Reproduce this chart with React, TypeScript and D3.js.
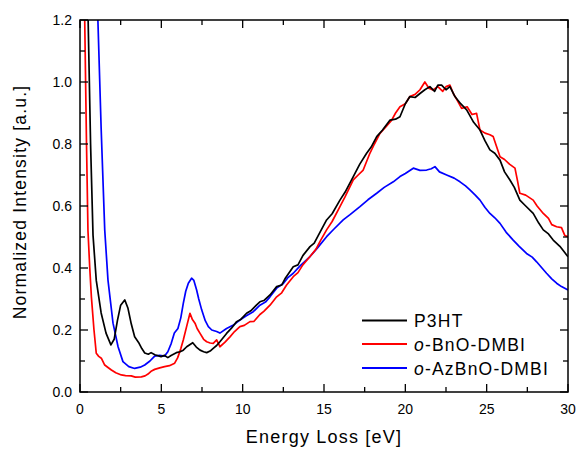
import React from "react";
import * as d3 from "d3";

const p3htE = [0.35,0.5,0.65,0.8,1.0,1.3,1.6,1.9,2.1,2.3,2.5,2.75,2.95,3.15,3.36,3.6,3.8,3.98,4.2,4.37,4.6,4.98,5.2,5.4,5.6,5.92,6.15,6.35,6.56,6.93,7.15,7.38,7.6,7.79,8.0,8.19,8.4,8.6,8.8,9.01,9.3,9.63,9.9,10.24,10.5,10.86,11.06,11.3,11.68,12.09,12.4,12.6,13.11,13.4,13.7,14.14,14.4,14.7,15.16,15.5,15.98,16.3,16.8,17.2,17.62,17.9,18.24,18.6,19.05,19.4,19.67,20.0,20.28,20.6,20.9,21.2,21.51,21.8,22.0,22.23,22.5,22.74,23.05,23.4,23.77,24.2,24.59,24.9,25.2,25.5,25.82,26.1,26.43,26.7,27.04,27.4,27.86,28.2,28.48,28.8,29.09,29.5,29.8,30.0];
const p3htI = [1.3,1.2,0.8,0.506,0.36,0.255,0.19,0.152,0.17,0.23,0.28,0.297,0.27,0.22,0.178,0.16,0.14,0.126,0.122,0.127,0.12,0.114,0.118,0.111,0.118,0.127,0.13,0.135,0.146,0.159,0.145,0.135,0.13,0.127,0.132,0.141,0.15,0.162,0.175,0.189,0.205,0.227,0.235,0.254,0.262,0.281,0.291,0.295,0.313,0.34,0.345,0.365,0.404,0.41,0.44,0.469,0.48,0.51,0.555,0.575,0.619,0.645,0.695,0.735,0.77,0.79,0.824,0.845,0.877,0.88,0.888,0.93,0.953,0.95,0.963,0.975,0.985,0.97,0.99,0.99,0.975,0.985,0.953,0.93,0.91,0.87,0.845,0.81,0.781,0.77,0.748,0.71,0.684,0.66,0.619,0.6,0.576,0.545,0.523,0.51,0.49,0.47,0.45,0.436];

const bnoE = [0.15,0.29,0.4,0.49,0.6,0.7,0.86,1.0,1.15,1.31,1.52,1.7,1.93,2.2,2.54,2.8,3.15,3.4,3.77,4.0,4.18,4.4,4.59,4.9,5.2,5.5,5.82,6.0,6.2,6.35,6.55,6.76,6.9,7.07,7.2,7.38,7.6,7.79,8.0,8.19,8.4,8.6,8.9,9.22,9.5,9.83,10.1,10.45,10.7,11.06,11.3,11.68,12.09,12.4,12.7,13.11,13.4,13.7,14.14,14.5,14.8,15.16,15.5,15.98,16.3,16.8,17.1,17.41,17.82,18.1,18.44,18.8,19.16,19.4,19.67,20.0,20.28,20.6,20.9,21.2,21.45,21.7,22.0,22.3,22.5,22.74,22.95,23.2,23.46,23.8,24.1,24.38,24.59,24.9,25.2,25.4,25.82,26.1,26.4,26.74,26.9,27.04,27.4,27.86,28.1,28.48,28.8,29.0,29.3,29.6,29.8,30.0];
const bnoI = [1.35,1.2,0.8,0.52,0.4,0.307,0.2,0.125,0.115,0.109,0.087,0.08,0.071,0.062,0.055,0.053,0.052,0.048,0.049,0.052,0.058,0.068,0.073,0.078,0.082,0.085,0.093,0.11,0.14,0.168,0.21,0.254,0.235,0.222,0.205,0.189,0.17,0.162,0.158,0.157,0.168,0.146,0.16,0.178,0.195,0.211,0.215,0.227,0.228,0.25,0.26,0.28,0.307,0.32,0.345,0.372,0.385,0.41,0.437,0.46,0.49,0.523,0.55,0.598,0.63,0.684,0.7,0.716,0.77,0.8,0.834,0.855,0.877,0.9,0.92,0.93,0.953,0.96,0.975,1.0,0.98,0.974,0.985,0.97,0.985,0.99,0.963,0.94,0.915,0.92,0.895,0.899,0.845,0.835,0.83,0.824,0.759,0.75,0.735,0.722,0.68,0.641,0.635,0.619,0.6,0.576,0.56,0.54,0.533,0.53,0.505,0.501];

const azE = [0.9,1.1,1.3,1.52,1.72,2.03,2.34,2.64,3.0,3.36,3.7,3.98,4.3,4.59,4.9,5.2,5.4,5.61,5.8,6.02,6.2,6.35,6.5,6.66,6.86,7.0,7.17,7.3,7.48,7.7,7.89,8.1,8.4,8.6,9.01,9.4,9.83,10.2,10.65,11.06,11.4,11.68,12.09,12.5,12.8,13.11,13.5,14.14,14.6,15.16,15.6,16.18,16.6,17.21,17.7,18.24,18.7,19.26,19.67,20.0,20.49,20.9,21.31,21.6,21.82,22.1,22.54,23.0,23.36,23.7,23.97,24.3,24.59,24.9,25.2,25.5,25.82,26.2,26.63,27.0,27.45,27.8,28.07,28.4,28.68,29.0,29.3,29.6,30.0];
const azI = [1.5,1.2,0.85,0.523,0.361,0.222,0.146,0.098,0.082,0.076,0.08,0.087,0.1,0.116,0.118,0.116,0.13,0.157,0.19,0.205,0.24,0.286,0.325,0.351,0.367,0.36,0.329,0.3,0.265,0.23,0.211,0.2,0.195,0.19,0.205,0.215,0.232,0.245,0.259,0.28,0.29,0.307,0.335,0.35,0.37,0.383,0.405,0.437,0.465,0.501,0.525,0.555,0.572,0.598,0.62,0.641,0.66,0.678,0.695,0.705,0.722,0.715,0.716,0.72,0.727,0.71,0.7,0.69,0.678,0.665,0.652,0.635,0.619,0.595,0.576,0.562,0.544,0.515,0.49,0.47,0.447,0.435,0.42,0.4,0.383,0.365,0.351,0.34,0.329];

const seriesNames = ["P3HT", "o-BnO-DMBI", "o-AzBnO-DMBI"];
const seriesColors = ["#000000", "#ff0000", "#0000ff"];
const xTicks = [0, 5, 10, 15, 20, 25, 30];
const yTicks = [0.0, 0.2, 0.4, 0.6, 0.8, 1.0, 1.2];

const W = 578, H = 449;
const L = 80, R = 568, T = 20, B = 392;

export default function App() {
  const x = d3.scaleLinear().domain([0, 30]).range([L, R]);
  const y = d3.scaleLinear().domain([0, 1.2]).range([B, T]);
  const line = d3.line<[number, number]>().x(d => x(d[0])).y(d => y(d[1]));
  const data: [number, number][][] = [
    p3htE.map((e, i) => [e, p3htI[i]] as [number, number]),
    bnoE.map((e, i) => [e, bnoI[i]] as [number, number]),
    azE.map((e, i) => [e, azI[i]] as [number, number]),
  ];
  const xMinor = d3.range(0, 30.01, 2.5);
  const yMinor = d3.range(0, 1.201, 0.1);
  const font = "Liberation Sans, Arial, sans-serif";
  const legendY = [320.5, 344, 368];
  return (
    <svg width={W} height={H} style={{ position: "absolute", left: 0, top: 0, background: "#fff" }}>
      <defs>
        <clipPath id="plot"><rect x={L} y={T} width={R - L} height={B - T} /></clipPath>
      </defs>
      <g clipPath="url(#plot)">
        {[2, 1, 0].map(i => (
          <path key={i} d={line(data[i]) || ""} fill="none" stroke={seriesColors[i]} strokeWidth={1.7} strokeLinejoin="round" />
        ))}
      </g>
      <rect x={L} y={T} width={R - L} height={B - T} fill="none" stroke="#000" strokeWidth={1.5} />
      {xMinor.map((v, i) => {
        const len = Math.abs(v % 5) < 1e-6 ? 8 : 5;
        return (
          <g key={"xt" + i} stroke="#000" strokeWidth={1.3}>
            <line x1={x(v)} x2={x(v)} y1={B} y2={B - len} />
            <line x1={x(v)} x2={x(v)} y1={T} y2={T + len} />
          </g>
        );
      })}
      {yMinor.map((v, i) => {
        const len = i % 2 === 0 ? 8 : 5;
        return (
          <g key={"yt" + i} stroke="#000" strokeWidth={1.3}>
            <line x1={L} x2={L + len} y1={y(v)} y2={y(v)} />
            <line x1={R} x2={R - len} y1={y(v)} y2={y(v)} />
          </g>
        );
      })}
      {xTicks.map(v => (
        <text key={"xl" + v} x={x(v)} y={413.5} textAnchor="middle" fontFamily={font} fontSize={14} fill="#000">{v}</text>
      ))}
      {yTicks.map(v => (
        <text key={"yl" + v} x={72} y={y(v) + 5} textAnchor="end" fontFamily={font} fontSize={14} fill="#000">{v.toFixed(1)}</text>
      ))}
      <text x={(L + R) / 2} y={443} textAnchor="middle" fontFamily={font} fontSize={18} letterSpacing={1.2} fill="#000">Energy Loss [eV]</text>
      <text transform={`translate(26,202) rotate(-90)`} textAnchor="middle" fontFamily={font} fontSize={17.5} letterSpacing={1.2} fill="#000">Normalized Intensity [a.u.]</text>
      {seriesNames.map((n, i) => (
        <g key={"lg" + i}>
          <line x1={362} x2={407} y1={legendY[i]} y2={legendY[i]} stroke={seriesColors[i]} strokeWidth={1.8} />
          <text x={414} y={legendY[i] + 6.5} fontFamily={font} fontSize={17.5} letterSpacing={1.2} fill="#000">
            {n.startsWith("o-") ? (<><tspan fontStyle="italic">o</tspan>{n.slice(1)}</>) : n}
          </text>
        </g>
      ))}
    </svg>
  );
}
